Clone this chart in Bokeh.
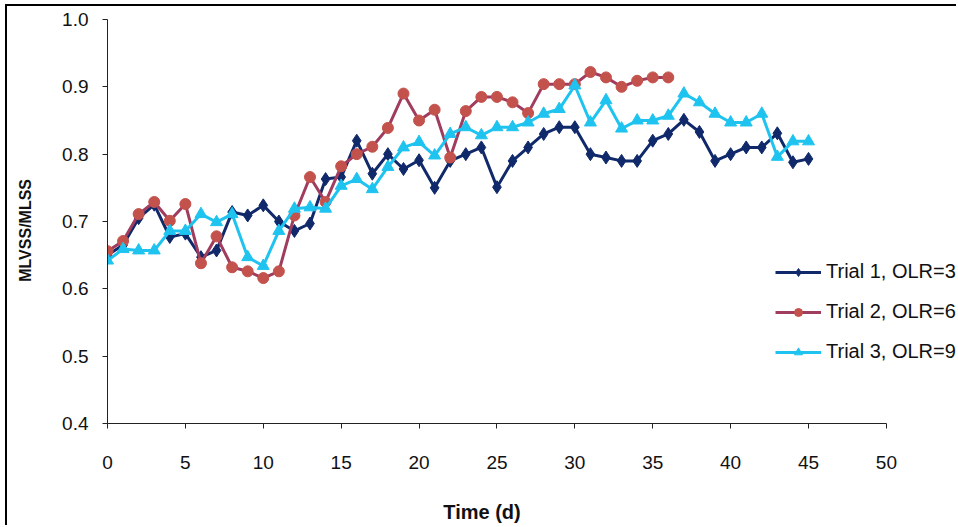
from bokeh.plotting import figure
from bokeh.models import Range1d, FixedTicker, Legend, LegendItem, CustomJSTickFormatter
from bokeh.embed import file_html
from bokeh.resources import INLINE

# MLVSS/MLSS ratio over time for three trials
days_t1 = list(range(0, 46))
trial1 = [0.650, 0.665, 0.705, 0.725, 0.677, 0.682, 0.647, 0.657, 0.714, 0.709,
          0.724, 0.700, 0.686, 0.697, 0.763, 0.766, 0.820, 0.771, 0.800, 0.778,
          0.791, 0.750, 0.790, 0.800, 0.810, 0.751, 0.790, 0.810, 0.830, 0.840,
          0.840, 0.800, 0.795, 0.790, 0.790, 0.820, 0.830, 0.851, 0.833, 0.790,
          0.800, 0.810, 0.810, 0.831, 0.788, 0.793]

days_t2 = list(range(0, 37))
trial2 = [0.656, 0.671, 0.711, 0.729, 0.701, 0.726, 0.638, 0.678, 0.632, 0.626,
          0.616, 0.626, 0.709, 0.766, 0.729, 0.782, 0.800, 0.811, 0.839, 0.890,
          0.850, 0.866, 0.795, 0.864, 0.885, 0.885, 0.877, 0.861, 0.904, 0.904,
          0.904, 0.922, 0.914, 0.900, 0.909, 0.914, 0.914]

days_t3 = list(range(0, 46))
trial3 = [0.642, 0.659, 0.657, 0.657, 0.686, 0.686, 0.711, 0.699, 0.711, 0.647,
          0.634, 0.686, 0.719, 0.721, 0.719, 0.753, 0.763, 0.748, 0.781, 0.810,
          0.818, 0.798, 0.830, 0.840, 0.828, 0.840, 0.840, 0.847, 0.860, 0.867,
          0.902, 0.847, 0.880, 0.838, 0.850, 0.850, 0.857, 0.890, 0.877, 0.860,
          0.847, 0.847, 0.860, 0.796, 0.819, 0.819]

labels = ["Trial 1, OLR=3", "Trial 2, OLR=6", "Trial 3, OLR=9"]
x_ticks = [0, 5, 10, 15, 20, 25, 30, 35, 40, 45, 50]
y_ticks = [0.4, 0.5, 0.6, 0.7, 0.8, 0.9, 1.0]

FONT = "Liberation Sans"
NBSP = "\u00a0"

# The frame runs past day 50 so the legend has room on the right;
# the x axis itself is bounded to 0..50.
p = figure(width=951, height=521, output_backend="svg", toolbar_location=None,
           x_range=Range1d(0, 54.5), y_range=Range1d(0.4, 1.0),
           min_border_left=100, min_border_right=2,
           min_border_top=13, min_border_bottom=104)
p.margin = (4, 0, 0, 5)
p.styles = {"border-top": "2px solid black", "border-left": "2px solid black"}
p.outline_line_color = None
p.grid.visible = False
p.background_fill_color = "white"
p.border_fill_color = "white"

for ax in (p.xaxis[0], p.yaxis[0]):
    ax.axis_line_color = "#222222"
    ax.axis_line_width = 1
    ax.major_tick_line_color = "#222222"
    ax.major_tick_out = 5
    ax.major_tick_in = 0
    ax.minor_tick_line_color = None
    ax.major_label_text_font = FONT
    ax.major_label_text_font_size = "19px"
    ax.major_label_text_color = "#111111"
    ax.axis_label_text_font = FONT
    ax.axis_label_text_font_style = "bold"
    ax.axis_label_text_color = "#111111"

p.xaxis.bounds = (0, 50)
p.xaxis.ticker = FixedTicker(ticks=x_ticks)
p.yaxis.ticker = FixedTicker(ticks=y_ticks)
p.yaxis.formatter = CustomJSTickFormatter(code="return tick.toFixed(1);")
p.xaxis.major_label_standoff = 27
p.yaxis.major_label_standoff = 14
# trailing no-break spaces keep the titles centred on the drawn axes
p.xaxis.axis_label = "Time (d)" + NBSP * 18
p.yaxis.axis_label = "MLVSS/MLSS" + NBSP * 4
p.xaxis.axis_label_text_font_size = "20px"
p.yaxis.axis_label_text_font_size = "16px"
p.xaxis.axis_label_standoff = 29
p.yaxis.axis_label_standoff = 25

navy = "#10296a"
plum_line = "#a03c5e"
plum_mark = "#c4524c"
cyan = "#1fc3ef"

l1 = p.line(days_t1, trial1, line_color=navy, line_width=3)
m1 = p.scatter(days_t1, trial1, marker="diamond", size=13,
               fill_color=navy, line_color=navy)
l2 = p.line(days_t2, trial2, line_color=plum_line, line_width=3)
m2 = p.scatter(days_t2, trial2, marker="circle", size=11,
               fill_color=plum_mark, line_color=plum_mark)
l3 = p.line(days_t3, trial3, line_color=cyan, line_width=3)
m3 = p.scatter(days_t3, trial3, marker="triangle", size=12,
               fill_color=cyan, line_color=cyan)

legend = Legend(items=[LegendItem(label=labels[0], renderers=[l1, m1]),
                       LegendItem(label=labels[1], renderers=[l2, m2]),
                       LegendItem(label=labels[2], renderers=[l3, m3])],
                location=(668, 60), orientation="vertical",
                border_line_color=None, background_fill_alpha=0,
                padding=0, margin=0, spacing=17,
                glyph_width=46, glyph_height=20, label_height=20,
                label_standoff=5,
                label_text_font=FONT, label_text_font_size="20px",
                label_text_color="#111111")
p.add_layout(legend, "center")

open("out.html", "w").write(file_html(p, INLINE))
